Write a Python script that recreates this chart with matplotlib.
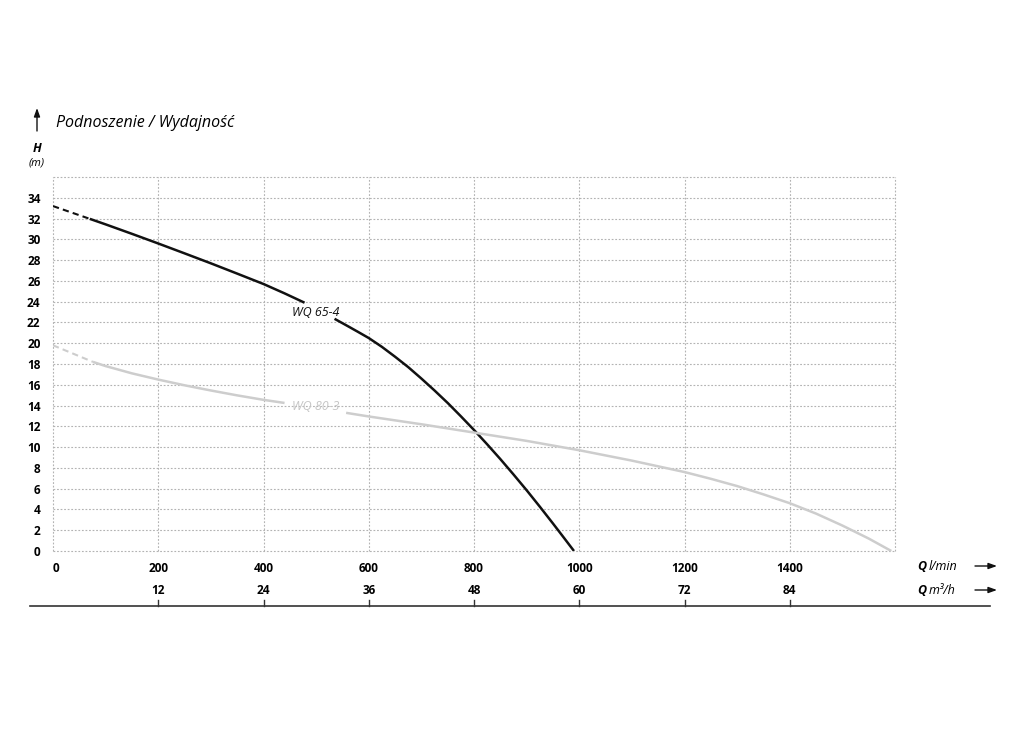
"""Pump performance curves: WQ 65-4 and WQ 80-3 (H vs Q)."""

import matplotlib
matplotlib.use("Agg")
import matplotlib.pyplot as plt
from matplotlib.lines import Line2D
from matplotlib.transforms import blended_transform_factory

plt.rcParams["font.family"] = ["Open Sans", "Noto Sans", "DejaVu Sans"]

# WQ 65-4 (black) - dashed start, then solid with a gap for the label
wq65_q_dash = [0, 70]
wq65_h_dash = [33.2, 31.97]
wq65_q_a = [70, 100, 150, 200, 250, 300, 350, 400, 440, 478]
wq65_h_a = [31.97, 31.44, 30.53, 29.6, 28.65, 27.69, 26.7, 25.7, 24.8, 23.9]
wq65_q_b = [535, 560, 580, 600, 625, 650, 675, 700, 725, 750, 775, 800,
            825, 850, 875, 900, 925, 950, 970, 990]
wq65_h_b = [22.35, 21.65, 21.08, 20.5, 19.65, 18.7, 17.7, 16.6, 15.45, 14.25,
            12.97, 11.65, 10.27, 8.85, 7.37, 5.85, 4.27, 2.65, 1.33, 0.0]

# WQ 80-3 (grey)
wq80_q_dash = [0, 76]
wq80_h_dash = [19.8, 18.2]
wq80_q_a = [76, 100, 150, 200, 250, 300, 350, 400, 440]
wq80_h_a = [18.2, 17.8, 17.1, 16.5, 15.95, 15.45, 14.98, 14.55, 14.25]
wq80_q_b = [557, 600, 700, 800, 900, 1000, 1100, 1200, 1250, 1300, 1350,
            1400, 1450, 1500, 1550, 1593]
wq80_h_b = [13.3, 12.95, 12.2, 11.4, 10.6, 9.7, 8.7, 7.6, 6.95, 6.25, 5.45,
            4.6, 3.6, 2.45, 1.2, 0.0]

q_lmin_ticks = [0, 200, 400, 600, 800, 1000, 1200, 1400, 1600]
q_lmin_labels = ["0", "200", "400", "600", "800", "1000", "1200", "1400", ""]
q_m3h_ticks = [12, 24, 36, 48, 60, 72, 84]
h_ticks = list(range(0, 38, 2))

BLACK = "#111111"
GREY = "#cdcdcd"

fig = plt.figure(figsize=(10.24, 7.31), dpi=100)
ax = fig.add_axes([53 / 1024, 180 / 731, 842 / 1024, 374 / 731])
ax.set_xlim(0, 1600)
ax.set_ylim(0, 36)
for sp in ax.spines.values():
    sp.set_visible(False)

grid_kw = dict(color="#b3b3b3", lw=0.8, ls=(0, (1.6, 1.6)), zorder=0, clip_on=False)
for h in h_ticks:
    ax.axhline(h, **grid_kw)
for q in q_lmin_ticks:
    ax.axvline(q, **grid_kw)

# curves
ax.plot(wq65_q_dash, wq65_h_dash, color=BLACK, lw=1.5, ls=(0, (3, 2)))
ax.plot(wq65_q_a, wq65_h_a, color=BLACK, lw=1.8, solid_capstyle="butt")
ax.plot(wq65_q_b, wq65_h_b, color=BLACK, lw=1.8, solid_capstyle="butt")
ax.plot(wq80_q_dash, wq80_h_dash, color=GREY, lw=1.5, ls=(0, (3, 2)))
ax.plot(wq80_q_a, wq80_h_a, color=GREY, lw=1.8, solid_capstyle="butt")
ax.plot(wq80_q_b, wq80_h_b, color=GREY, lw=1.8, solid_capstyle="butt", clip_on=False)

ax.text(500, 23.0, "WQ 65-4", style="italic", fontsize=9, color=BLACK,
        ha="center", va="center")
ax.text(500, 13.9, "WQ 80-3", style="italic", fontsize=9, color="#c6c6c6",
        ha="center", va="center")

# y axis
ax.set_yticks(h_ticks)
ax.set_yticklabels([str(h) if h <= 34 else "" for h in h_ticks],
                   fontsize=8.5, fontweight="bold")
ax.tick_params(axis="y", length=0, pad=9)

# x axis, row 1 (l/min)
ax.set_xticks(q_lmin_ticks)
ax.set_xticklabels(q_lmin_labels, fontsize=8.5, fontweight="bold")
ax.tick_params(axis="x", length=0, pad=8)
ax.get_xticklabels()[0].set_horizontalalignment("left")

# x axis, row 2 (m3/h) with a baseline below
trans = blended_transform_factory(ax.transData, fig.transFigure)
for m in q_m3h_ticks:
    q = m * 1000 / 60
    ax.text(q, 1 - 590 / 731, str(m), transform=trans, fontsize=8.5,
            fontweight="bold", ha="center", va="center")
    ax.add_line(Line2D([q, q], [1 - 600 / 731, 1 - 606 / 731], transform=trans,
                       color="#333333", lw=1.0, clip_on=False))
fig.add_artist(Line2D([30 / 1024, 990 / 1024], [1 - 606 / 731, 1 - 606 / 731],
                      color="#333333", lw=1.2))

# axis unit captions with arrows
arrow_kw = dict(arrowstyle="-|>,head_length=0.5,head_width=0.18", color="#111111",
                lw=1.0, shrinkA=0, shrinkB=0)
for y, unit, qx in [(566, "l/min", 926), (590, "m³/h", 926)]:
    fy = 1 - y / 731
    fig.text(929 / 1024, fy, unit, style="italic", fontsize=9, ha="left", va="center")
    fig.text(qx / 1024, fy, "Q", style="italic", fontweight="bold", fontsize=9,
             ha="right", va="center")
    ax.annotate("", xy=(997 / 1024, fy), xytext=(975 / 1024, fy),
                xycoords="figure fraction", textcoords="figure fraction",
                arrowprops=arrow_kw, annotation_clip=False)

# title block
ax.annotate("", xy=(37 / 1024, 1 - 108 / 731), xytext=(37 / 1024, 1 - 131 / 731),
            xycoords="figure fraction", textcoords="figure fraction",
            arrowprops=arrow_kw, annotation_clip=False)
fig.text(56 / 1024, 1 - 123 / 731, "Podnoszenie / Wydajność", style="italic",
         fontsize=11.5, ha="left", va="center")
fig.text(37 / 1024, 1 - 148 / 731, "H", style="italic", fontweight="bold",
         fontsize=9, ha="center", va="center")
fig.text(37 / 1024, 1 - 163 / 731, "(m)", style="italic", fontsize=8,
         ha="center", va="center")

fig.savefig("out.png", dpi=100)
